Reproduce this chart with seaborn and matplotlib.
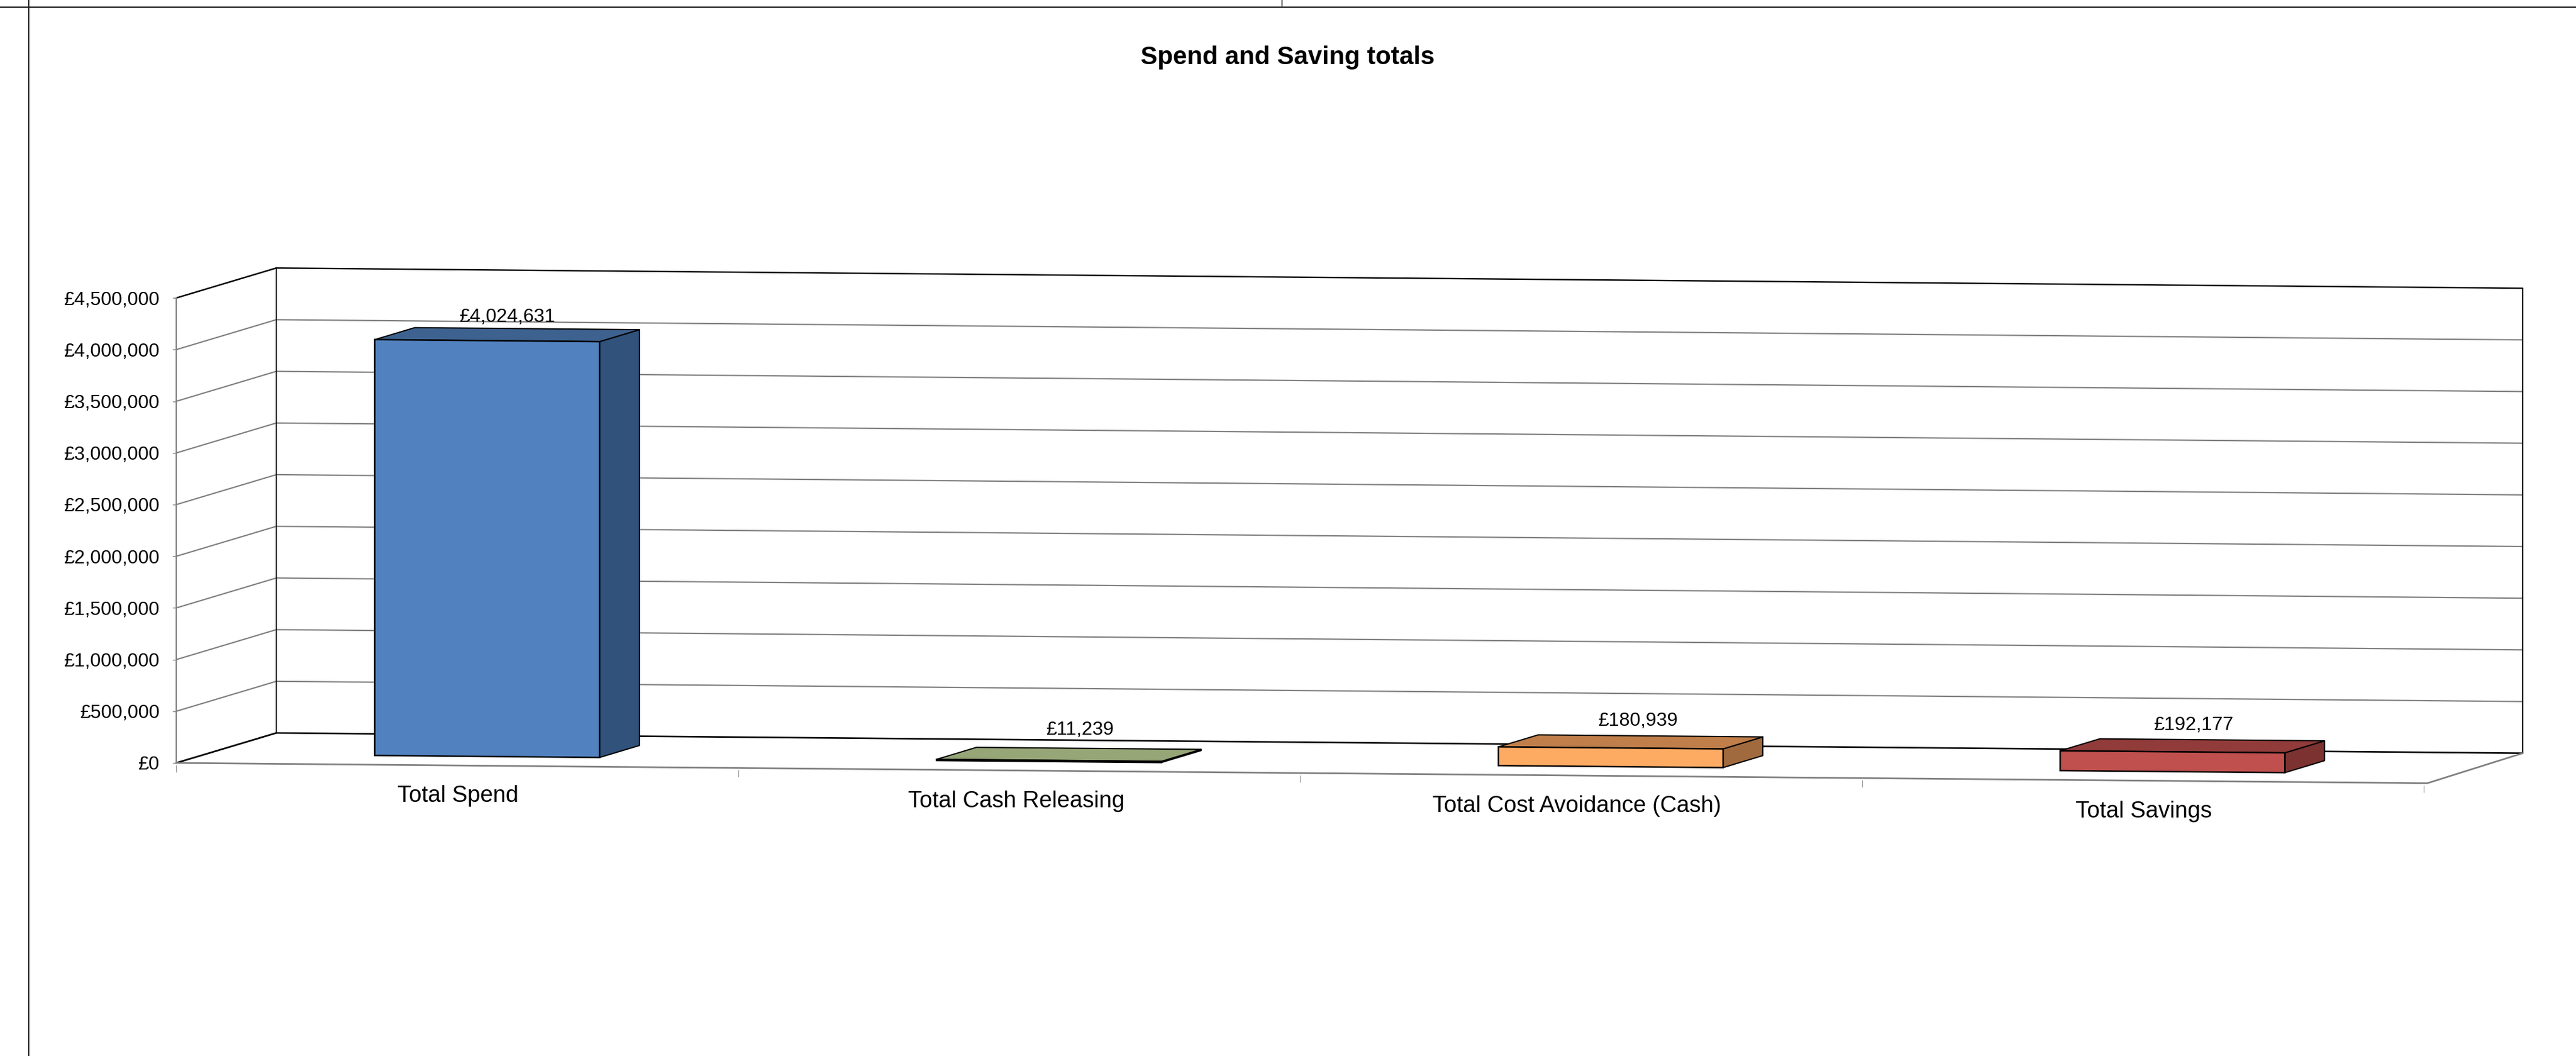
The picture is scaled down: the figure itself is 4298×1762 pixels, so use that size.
import matplotlib
matplotlib.use("Agg")
import matplotlib.pyplot as plt
import seaborn as sns
from matplotlib.patches import Polygon
from matplotlib.lines import Line2D
from matplotlib.transforms import Affine2D, IdentityTransform

# ---- data ----
categories = ["Total Spend", "Total Cash Releasing", "Total Cost Avoidance (Cash)", "Total Savings"]
values = [4024631, 11239, 180939, 192177]
y_ticks = [0, 500000, 1000000, 1500000, 2000000, 2500000, 3000000, 3500000, 4000000, 4500000]
title = "Spend and Saving totals"

# ---- colours ----
front_colors = ["#5181BF", "#9BBB59", "#FDAA63", "#C0504D"]
top_colors = ["#3E628F", "#97A677", "#BF7E4A", "#913C3A"]
side_colors = ["#30527B", "#6F7F4F", "#A06A3E", "#7B3230"]
GRID = "#808080"

# ---- layout (pixels of the 4298x1762 canvas) ----
W, H = 4298, 1762
DPI = 100
AX_LEFT, AX_RIGHT, AX_ZERO, PX_PER_500K = 294, 4044, 1273, 86.2
SLOPE, DEPTH_X, DEPTH_Y, DEPTH_SHRINK = 0.009, 167, 50, 0.00053
BAR_Z = (0.3, 0.7)
label_dx = [0, 18, 12, 2]
label_dy = [21, 33, 27, 26]
cat_dx = [1, -5, -7, 1]
CAT_BELOW = 61

sns.set_theme(style="white")
plt.rcParams["font.family"] = ["Liberation Sans", "DejaVu Sans"]
plt.rcParams["text.color"] = "black"

fig = plt.figure(figsize=(W / DPI, H / DPI), dpi=DPI, facecolor="white")
ax = fig.add_axes([AX_LEFT / W, (H - AX_ZERO) / H, (AX_RIGHT - AX_LEFT) / W,
                   9 * PX_PER_500K / H])

sns.barplot(x=categories, y=values, hue=categories, palette=front_colors, order=categories,
            hue_order=categories, dodge=False, legend=False, width=0.4, saturation=1,
            edgecolor="black", linewidth=1.8, ax=ax)
ax.set_xlim(-0.5, 3.5)
ax.set_ylim(0, y_ticks[-1])
ax.patch.set_visible(False)
for name in ("top", "right", "bottom"):
    ax.spines[name].set_visible(False)
ax.spines["left"].set_color(GRID)
ax.spines["left"].set_linewidth(1.4)
ax.set_xlabel("")
ax.set_ylabel("")
ax.grid(False)
ax.set_xticks([])
ax.set_yticks(y_ticks)
ax.set_yticklabels([f"£{v:,}" for v in y_ticks], fontsize=23, color="black")
ax.tick_params(axis="y", left=True, length=4.3, width=1.0, color=GRID, pad=15.8)


def plane(z):
    """Oblique projection: the plane at depth z (0 front, 1 back), in display pixels."""
    return ax.transData + Affine2D.from_values(
        1 - DEPTH_SHRINK * z, -SLOPE, 0, 1,
        z * (DEPTH_X + DEPTH_SHRINK * AX_LEFT), SLOPE * AX_LEFT + DEPTH_Y * z)


def pt(x, v, z):
    return plane(z).transform((x, v))


def seg(a, b, color, lw, zorder=2):
    (x0, v0, z0), (x1, v1, z1) = a, b
    p0, p1 = pt(x0, v0, z0), pt(x1, v1, z1)
    ax.add_line(Line2D([p0[0], p1[0]], [p0[1], p1[1]], transform=IdentityTransform(),
                       color=color, lw=lw, clip_on=False, zorder=zorder))


XL, XR = -0.5, 3.5
top_v = y_ticks[-1]
# gridlines on back and side walls
for v in y_ticks[1:-1]:
    seg((XL, v, 1), (XR, v, 1), GRID, 1.6)
    seg((XL, v, 0), (XL, v, 1), GRID, 1.6)
# walls and floor
seg((XL, 0, 1), (XR, 0, 1), "black", 1.9)
seg((XL, top_v, 1), (XR, top_v, 1), "black", 1.7)
seg((XL, 0, 1), (XL, top_v, 1), "#111111", 1.2)
seg((XR, 0, 1), (XR, top_v, 1), "#111111", 1.7)
seg((XL, top_v, 0), (XL, top_v, 1), "black", 1.8)
seg((XL, 0, 0), (XL, 0, 1), "black", 2.0)
seg((XL, 0, 0), (XR + 0.0064, 0, 0), GRID, 2.0)
seg((XR + 0.0064, 0, 0), (XR, 0, 1), GRID, 2.0)

# category ticks below the floor's front edge
for x in [XL + i for i in range(5)]:
    p = pt(x, 0, 0)
    ax.add_line(Line2D([p[0], p[0]], [p[1] - 4, p[1] - 15], transform=IdentityTransform(),
                       color="#999999", lw=0.9, clip_on=False, zorder=2))

# bars: the seaborn bars are the front faces, moved into their depth slot
zf, zb = BAR_Z
for i, bar in enumerate(ax.patches):
    bar.set_transform(plane(zf))
    bar.set_clip_on(False)
    bar.set_zorder(6)
    x0, x1 = bar.get_x(), bar.get_x() + bar.get_width()
    v = bar.get_height()
    top = [pt(x0, v, zf), pt(x1, v, zf), pt(x1, v, zb), pt(x0, v, zb)]
    side = [pt(x1, 0, zf), pt(x1, v, zf), pt(x1, v, zb), pt(x1, 0, zb)]
    for poly, col in ((side, side_colors[i]), (top, top_colors[i])):
        ax.add_patch(Polygon(poly, closed=True, facecolor=col, edgecolor="black", linewidth=1.5,
                             transform=IdentityTransform(), clip_on=False, zorder=5,
                             joinstyle="round"))
    c = pt(i, v, 0.5)
    ax.text(c[0] + label_dx[i], c[1] + label_dy[i], f"£{values[i]:,}", transform=IdentityTransform(),
            ha="center", va="baseline", fontsize=23, color="black", zorder=7, clip_on=False)
    f = pt(i, 0, 0)
    ax.text(f[0] + cat_dx[i], f[1] - CAT_BELOW, categories[i], transform=IdentityTransform(),
            ha="center", va="baseline", fontsize=27.5, color="black", clip_on=False)

# title and the cell borders around the chart object
fig.text(2148 / W, (H - 107) / H, title, ha="center", va="baseline", fontsize=30.4,
         fontweight="bold", color="black")
fig.add_artist(Line2D([0, 1], [1 - 11.7 / H] * 2, color="black", lw=1.6, transform=fig.transFigure))
fig.add_artist(Line2D([47.7 / W] * 2, [0, 1], color="#222222", lw=1.4, transform=fig.transFigure))
fig.add_artist(Line2D([2139 / W] * 2, [1 - 11.7 / H, 1], color="#333333", lw=1.2, transform=fig.transFigure))

fig.savefig("out.png", dpi=DPI, facecolor="white")
